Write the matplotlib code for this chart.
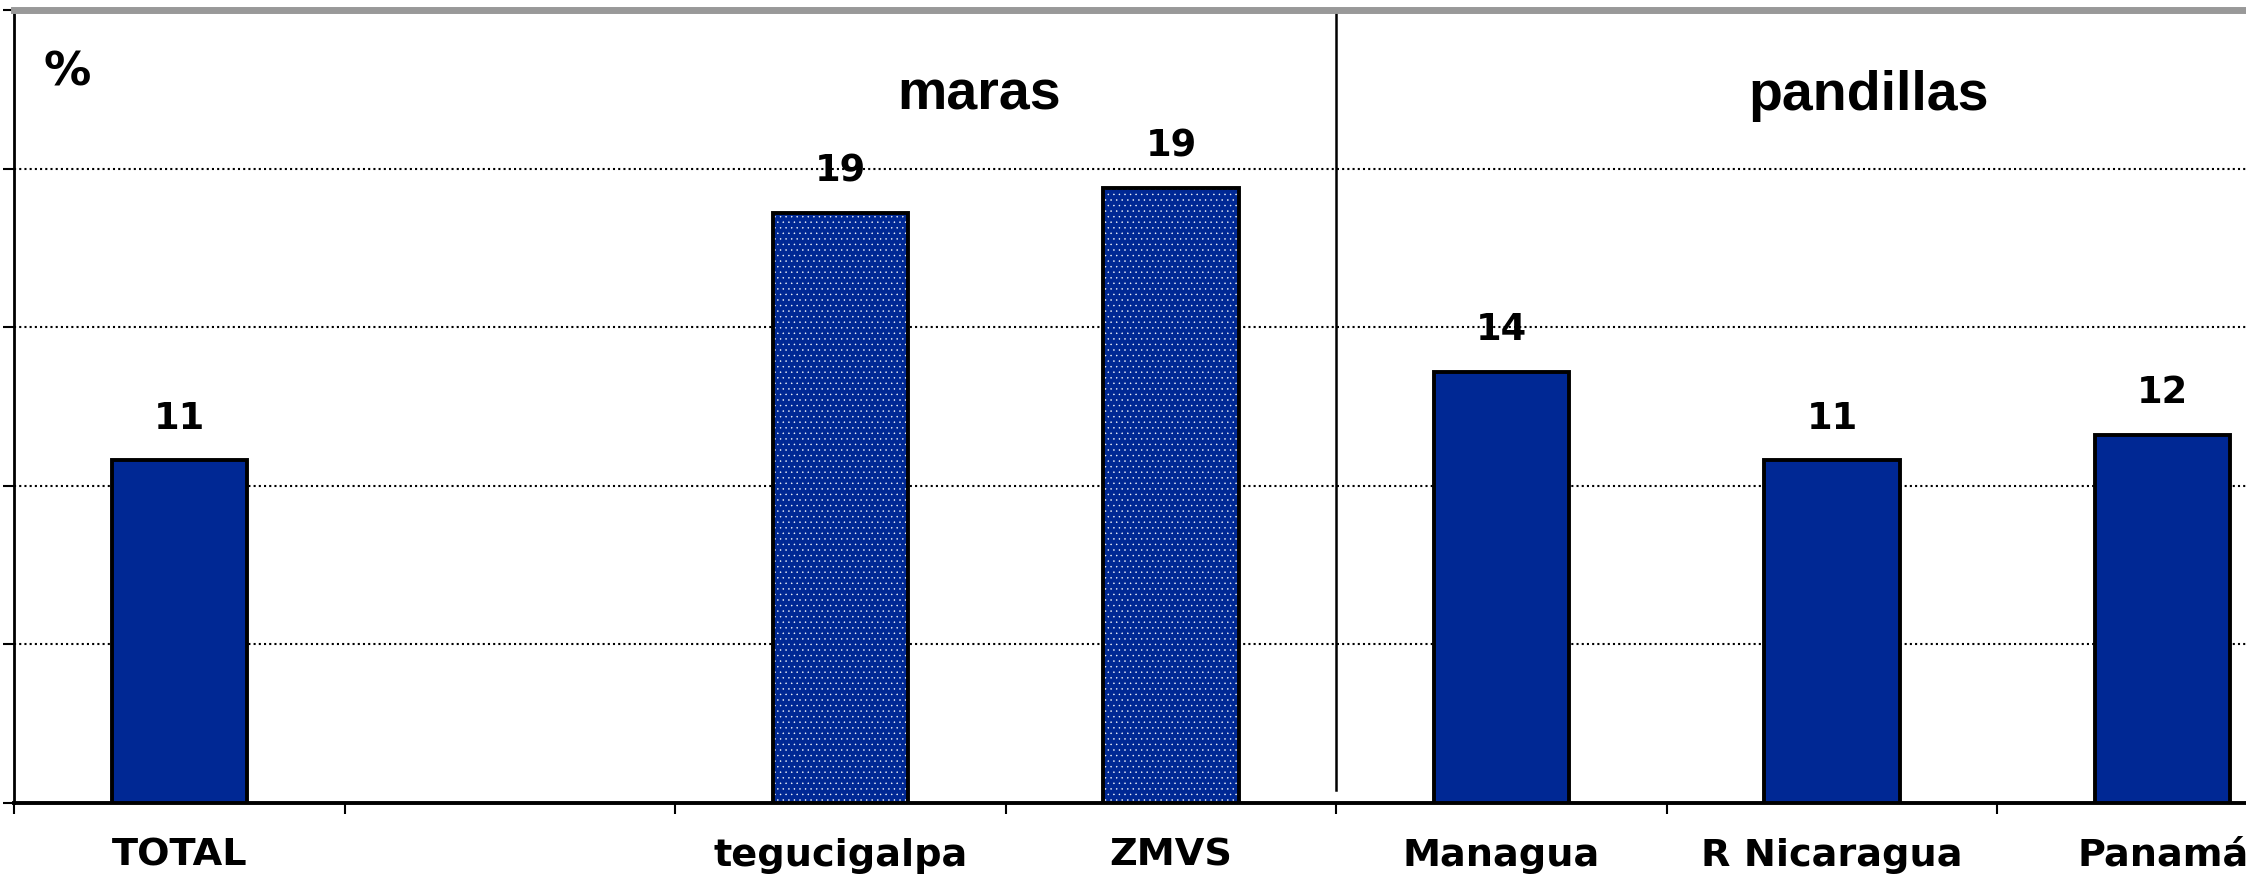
import matplotlib
matplotlib.use("Agg")
import matplotlib.pyplot as plt
import numpy as np

categories = ["TOTAL", "", "tegucigalpa", "ZMVS", "Managua", "R Nicaragua", "Panamá"]
values = [10.8, None, 18.6, 19.4, 13.6, 10.8, 11.6]
value_labels = ["11", "", "19", "19", "14", "11", "12"]
dotted = [False, False, True, True, False, False, False]
groups = [("maras", 2.42), ("pandillas", 5.11)]
divider_after = "ZMVS"

BLUE = "#002894"
plt.rcParams["hatch.linewidth"] = 0.3

fig = plt.figure(figsize=(22.46, 8.77), dpi=100)
ax = fig.add_axes([14 / 2246, 74 / 877, 2314 / 2246, 793 / 877])

x = np.arange(len(categories))
width = 0.41
for xi, v, lab, dot in zip(x, values, value_labels, dotted):
    if v is None:
        continue
    if dot:
        ax.bar(xi, v, width, color=BLUE, edgecolor="white", hatch="...", linewidth=0, zorder=3)
        ax.bar(xi, v, width, facecolor="none", edgecolor="black", linewidth=2.8, zorder=4)
    else:
        ax.bar(xi, v, width, color=BLUE, edgecolor="black", linewidth=2.8, zorder=3)
    ax.annotate(lab, (xi, v), xytext=(0, 17), textcoords="offset points",
                ha="center", va="bottom", fontsize=26.5, fontweight="bold")

ax.set_xlim(-0.5, len(categories) - 0.5)
ax.set_ylim(0, 25)

# dotted gridlines
ax.set_yticks(np.arange(0, 26, 5))
ax.set_yticklabels([])
ax.yaxis.grid(True, linestyle=(0, (1, 1.5)), color="black", linewidth=1.5, zorder=1)
ax.tick_params(axis="y", direction="out", length=8, width=1.5, color="black")

ax.set_xticks(x)
ax.set_xticklabels(categories, fontsize=27.5, fontweight="bold")
ax.set_xticks(np.arange(-0.5, len(categories), 1), minor=True)
ax.tick_params(axis="x", which="major", length=0, pad=25)
ax.tick_params(axis="x", which="minor", direction="out", length=8, width=1.5)

# divider between maras and pandillas
d = categories.index(divider_after) + 0.5
ax.plot([d, d], [0.4, 25], color="black", linewidth=1.8, zorder=2)

for name, gx in groups:
    ax.text(gx, 22.3, name, ha="center", va="center", fontsize=40,
            fontweight="bold", family="Liberation Sans")

ax.text(-0.34, 23.0, "%", ha="center", va="center", fontsize=34, fontweight="bold")

ax.spines["right"].set_visible(False)
ax.spines["top"].set_color("#999999")
ax.spines["top"].set_linewidth(5)
ax.spines["left"].set_linewidth(2)
ax.spines["bottom"].set_linewidth(2.8)

fig.savefig("out.png", dpi=100)
